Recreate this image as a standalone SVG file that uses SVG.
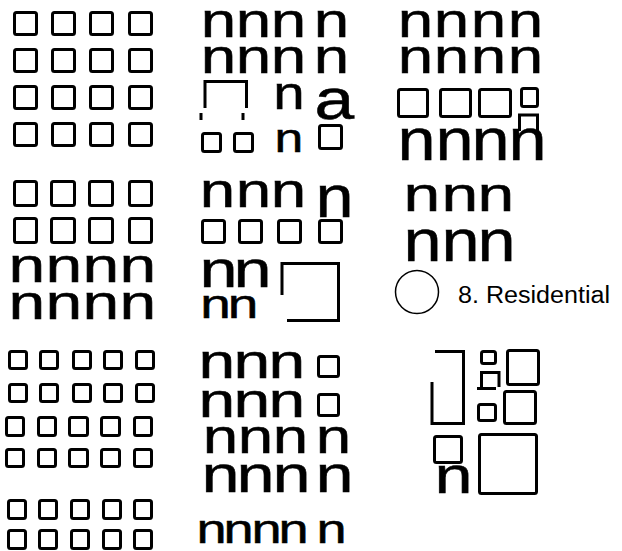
<svg xmlns="http://www.w3.org/2000/svg" width="622" height="551" viewBox="0 0 622 551">
<style>
.bg{fill:#fff}
.sq{fill:none;stroke:#000;stroke-width:3;stroke-linejoin:round}
.ln{fill:none;stroke:#000;stroke-width:3;stroke-linecap:butt}
.t{font-family:"Liberation Sans",Arial,sans-serif;fill:#000;stroke:#000;stroke-width:0.5}
.A{font-size:48.5px}
.B{font-size:59.7px}
.C{font-size:41px}
.D{font-size:52.2px}
.lbl{font-family:"Liberation Sans",Arial,sans-serif;font-size:23.5px;fill:#000}
</style>
<rect class="bg" x="0" y="0" width="622" height="551"/>

<g id="grid-a">
<rect class="sq" x="14.5" y="12.5" width="22" height="22" rx="2"/>
<rect class="sq" x="52.5" y="12.5" width="22" height="22" rx="2"/>
<rect class="sq" x="90.5" y="12.5" width="22" height="22" rx="2"/>
<rect class="sq" x="129.5" y="12.5" width="22" height="22" rx="2"/>
<rect class="sq" x="14.5" y="49.5" width="22" height="22" rx="2"/>
<rect class="sq" x="52.5" y="49.5" width="22" height="22" rx="2"/>
<rect class="sq" x="90.5" y="49.5" width="22" height="22" rx="2"/>
<rect class="sq" x="129.5" y="49.5" width="22" height="22" rx="2"/>
<rect class="sq" x="14.5" y="86.5" width="22" height="22" rx="2"/>
<rect class="sq" x="52.5" y="86.5" width="22" height="22" rx="2"/>
<rect class="sq" x="90.5" y="86.5" width="22" height="22" rx="2"/>
<rect class="sq" x="129.5" y="86.5" width="22" height="22" rx="2"/>
<rect class="sq" x="14.5" y="123.5" width="22" height="22" rx="2"/>
<rect class="sq" x="52.5" y="123.5" width="22" height="22" rx="2"/>
<rect class="sq" x="90.5" y="123.5" width="22" height="22" rx="2"/>
<rect class="sq" x="129.5" y="123.5" width="22" height="22" rx="2"/>
</g>

<g id="grid-b">
<text class="t A" transform="matrix(1.313 0 0 1 0 37)" x="152.93 179.59 206.25 239.0 152.93 179.59 206.25 239.0" y="0 0 0 0 36 36 36 36">nnnnnnnn</text>
<path class="ln" d="M205 108 V81.5 H246.5 V108"/>
<path class="ln" d="M201 113 V120 M243 113 V120"/>
<text class="t" font-size="47" transform="matrix(1.2 0 0 1 273.3 109)">n</text>
<text class="t" font-size="58" transform="matrix(1.23 0 0 1 314.4 119)">a</text>
<rect class="sq" x="202.5" y="133.5" width="18" height="18" rx="2"/>
<rect class="sq" x="234.5" y="133.5" width="18" height="18" rx="2"/>
<text class="t C" transform="matrix(1.26 0 0 1 274.6 152)">n</text>
<rect class="sq" x="319.5" y="125.5" width="22" height="23" rx="2"/>
</g>

<g id="grid-c">
<text class="t A" transform="matrix(1.313 0 0 1 0 37)" x="302.97 330.39 358.57 386.75 302.97 330.39 358.57 386.75" y="0 0 0 0 36 36 36 36">nnnnnnnn</text>
<rect class="sq" x="398.5" y="89.5" width="29" height="27" rx="2"/>
<rect class="sq" x="440.5" y="89.5" width="30" height="27" rx="2"/>
<rect class="sq" x="479.5" y="89.5" width="31" height="27" rx="2"/>
<rect class="sq" x="521.5" y="88.5" width="16" height="18" rx="2"/>
<path class="ln" stroke-width="2.5" d="M519.5 131 V115 H537.5 V131"/>
<text class="t B" transform="matrix(1.146 0 0 1 0 160)" x="346.86 380.02 411.43 443.72" y="0">nnnn</text>
</g>

<g id="grid-d">
<rect class="sq" x="14.5" y="181.5" width="22" height="24" rx="2"/>
<rect class="sq" x="51.5" y="181.5" width="23" height="24" rx="2"/>
<rect class="sq" x="89.5" y="181.5" width="23" height="24" rx="2"/>
<rect class="sq" x="129.5" y="181.5" width="22" height="24" rx="2"/>
<rect class="sq" x="14.5" y="218.5" width="22" height="24" rx="2"/>
<rect class="sq" x="51.5" y="218.5" width="23" height="24" rx="2"/>
<rect class="sq" x="89.5" y="218.5" width="23" height="24" rx="2"/>
<rect class="sq" x="129.5" y="218.5" width="22" height="24" rx="2"/>
<text class="t A" transform="matrix(1.36 0 0 1 0 282)" x="6.32 33.53 60.74 87.94" y="0">nnnn</text>
<text class="t A" transform="matrix(1.36 0 0 1 0 319)" x="6.32 33.53 60.74 87.94" y="0">nnnn</text>
</g>

<g id="grid-e">
<text class="t A" transform="matrix(1.313 0 0 1 0 207)" x="152.17 179.59 206.25" y="0">nnn</text>
<text class="t B" transform="matrix(1.146 0 0 1 315.5 217)">n</text>
<rect class="sq" x="202.5" y="220.5" width="22" height="22" rx="2"/>
<rect class="sq" x="239.5" y="220.5" width="22" height="22" rx="2"/>
<rect class="sq" x="278.5" y="220.5" width="22" height="22" rx="2"/>
<rect class="sq" x="319.5" y="220.5" width="22" height="22" rx="2"/>
<text class="t D" transform="matrix(1.31 0 0 1 0 287)" x="152.29 178.24" y="0">nn</text>
<text class="t C" transform="matrix(1.34 0 0 1 0 318)" x="149.48 170.0" y="0">nn</text>
<path class="ln" stroke-width="3.5" d="M282 295 V263.5 H338.5 V320.5 H287"/>
</g>

<g id="grid-f">
<text class="t A" transform="matrix(1.36 0 0 1 0 211)" x="296.76 324.71 351.18" y="0">nnn</text>
<text class="t B" transform="matrix(1.146 0 0 1 0 261)" x="352.09 385.25 416.67" y="0">nnn</text>
</g>

<g id="residential">
<circle cx="417" cy="292" r="21.5" fill="none" stroke="#000" stroke-width="1.5"/>
<text class="lbl" x="458" y="303" textLength="152" lengthAdjust="spacingAndGlyphs">8. Residential</text>
</g>

<g id="grid-g">
<rect class="sq" x="9.5" y="351.5" width="17" height="17" rx="2"/>
<rect class="sq" x="40.5" y="351.5" width="17" height="17" rx="2"/>
<rect class="sq" x="73.5" y="351.5" width="17" height="17" rx="2"/>
<rect class="sq" x="104.5" y="351.5" width="17" height="17" rx="2"/>
<rect class="sq" x="136.5" y="351.5" width="17" height="17" rx="2"/>
<rect class="sq" x="9.5" y="384.5" width="17" height="17" rx="2"/>
<rect class="sq" x="40.5" y="384.5" width="17" height="17" rx="2"/>
<rect class="sq" x="73.5" y="384.5" width="17" height="17" rx="2"/>
<rect class="sq" x="104.5" y="384.5" width="17" height="17" rx="2"/>
<rect class="sq" x="136.5" y="384.5" width="17" height="17" rx="2"/>
<rect class="sq" x="6.5" y="417.5" width="17" height="18" rx="2"/>
<rect class="sq" x="38.5" y="417.5" width="17" height="18" rx="2"/>
<rect class="sq" x="69.5" y="417.5" width="18" height="18" rx="2"/>
<rect class="sq" x="101.5" y="417.5" width="18" height="18" rx="2"/>
<rect class="sq" x="134.5" y="417.5" width="17" height="18" rx="2"/>
<rect class="sq" x="6.5" y="449.5" width="17" height="17" rx="2"/>
<rect class="sq" x="38.5" y="449.5" width="17" height="17" rx="2"/>
<rect class="sq" x="69.5" y="449.5" width="18" height="17" rx="2"/>
<rect class="sq" x="101.5" y="449.5" width="18" height="17" rx="2"/>
<rect class="sq" x="134.5" y="449.5" width="17" height="17" rx="2"/>
<rect class="sq" x="8.5" y="500.5" width="17" height="18" rx="2"/>
<rect class="sq" x="39.5" y="500.5" width="17" height="18" rx="2"/>
<rect class="sq" x="71.5" y="500.5" width="17" height="18" rx="2"/>
<rect class="sq" x="103.5" y="500.5" width="17" height="18" rx="2"/>
<rect class="sq" x="134.5" y="500.5" width="17" height="18" rx="2"/>
<rect class="sq" x="8.5" y="530.5" width="17" height="18" rx="2"/>
<rect class="sq" x="39.5" y="530.5" width="17" height="18" rx="2"/>
<rect class="sq" x="71.5" y="530.5" width="17" height="18" rx="2"/>
<rect class="sq" x="103.5" y="530.5" width="17" height="18" rx="2"/>
<rect class="sq" x="134.5" y="530.5" width="17" height="18" rx="2"/>
</g>

<g id="grid-h">
<text class="t A" transform="matrix(1.36 0 0 1 0 378)" x="146.03 171.76 197.5" y="0">nnn</text>
<rect class="sq" x="318.5" y="356.5" width="20" height="20" rx="2"/>
<text class="t A" transform="matrix(1.36 0 0 1 0 417)" x="146.03 171.76 197.5" y="0">nnn</text>
<rect class="sq" x="318.5" y="394.5" width="20" height="21" rx="2"/>
<text class="t A" transform="matrix(1.313 0 0 1 0 453)" x="154.46 181.11 207.77 240.52" y="0">nnnn</text>
<text class="t D" transform="matrix(1.31 0 0 1 0 492)" x="153.82 180.53 208.02 240.84" y="0">nnnn</text>
<text class="t C" transform="matrix(1.32 0 0 1 0 543)" x="148.79 169.24 190.45 210.91 239.70" y="0">nnnnn</text>
</g>

<g id="grid-i">
<path class="ln" d="M435 351.5 H463.5 V423.5 H432 V382"/>
<rect class="sq" x="481.5" y="351.5" width="14" height="12" rx="2"/>
<path class="ln" d="M481.5 387 V372.5 H499 V387 M477 388.5 H496"/>
<rect class="sq" x="507.5" y="350.5" width="31" height="34" rx="2"/>
<rect class="sq" x="478.5" y="404.5" width="17" height="16" rx="2"/>
<rect class="sq" x="504.5" y="391.5" width="31" height="32" rx="2"/>
<rect class="sq" x="434.5" y="436.5" width="27" height="26" rx="2"/>
<text class="t D" transform="matrix(1.31 0 0 1 434.5 493)">n</text>
<rect class="sq" x="479.5" y="434.5" width="57" height="59" rx="2"/>
</g>
</svg>
